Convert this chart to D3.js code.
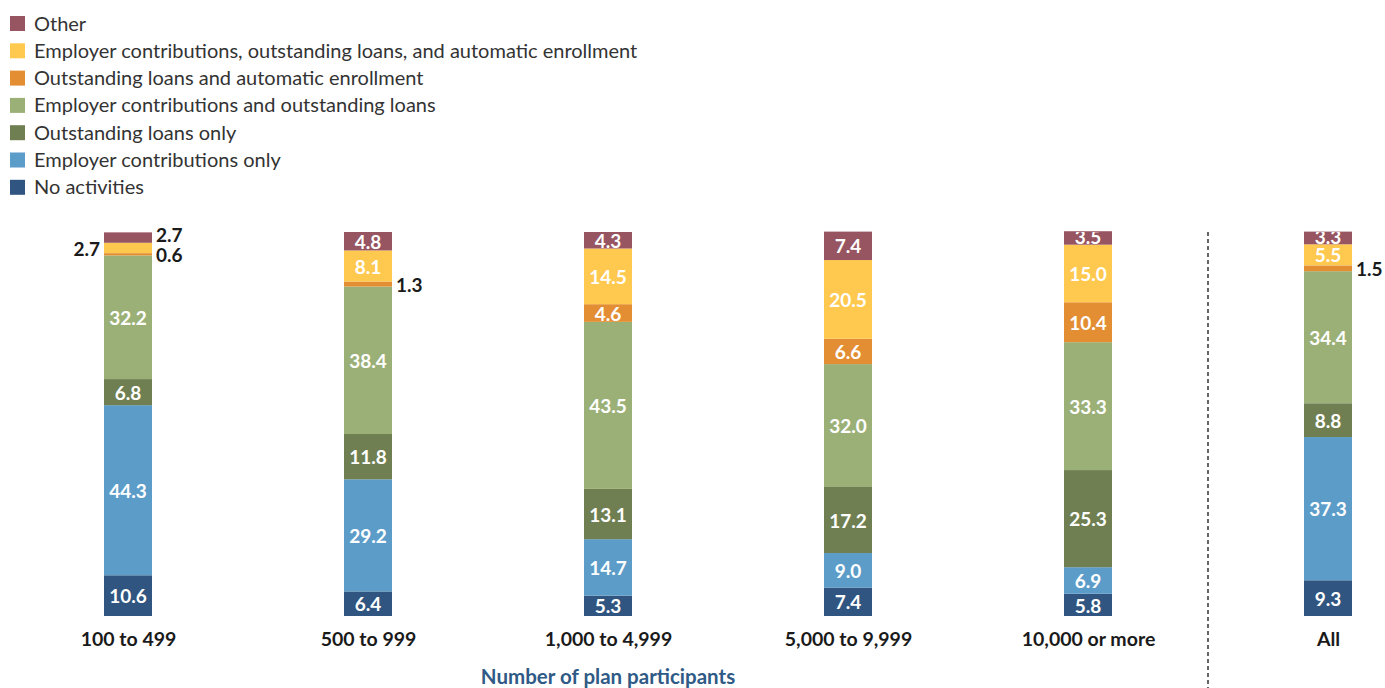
<!DOCTYPE html>
<html>
<head>
<meta charset="utf-8">
<script src="https://cdn.jsdelivr.net/npm/d3@7"></script>
<style>
  html, body { margin: 0; padding: 0; background: #fff; }
  svg { display: block; font-family: Lato, "Open Sans", sans-serif; }
</style>
</head>
<body>
<svg id="chart" width="1385" height="688"></svg>
<script>
// Plan-size groups (x axis)
const categories = ["100 to 499", "500 to 999", "1,000 to 4,999", "5,000 to 9,999", "10,000 or more", "All"];

// Series, stacked from the bottom up (percent of plans)
const seriesNames = [
  "No activities",
  "Employer contributions only",
  "Outstanding loans only",
  "Employer contributions and outstanding loans",
  "Outstanding loans and automatic enrollment",
  "Employer contributions, outstanding loans, and automatic enrollment",
  "Other"
];
const noActivities   = [10.6, 6.4, 5.3, 7.4, 5.8, 9.3];
const employerOnly   = [44.3, 29.2, 14.7, 9.0, 6.9, 37.3];
const loansOnly      = [6.8, 11.8, 13.1, 17.2, 25.3, 8.8];
const employerLoans  = [32.2, 38.4, 43.5, 32.0, 33.3, 34.4];
const loansAutoEnrol = [0.6, 1.3, 4.6, 6.6, 10.4, 1.5];
const allThree       = [2.7, 8.1, 14.5, 20.5, 15.0, 5.5];
const other          = [2.7, 4.8, 4.3, 7.4, 3.5, 3.3];
const seriesValues = [noActivities, employerOnly, loansOnly, employerLoans, loansAutoEnrol, allThree, other];

const colors = ["#2f5580", "#5c9cc9", "#6f7f52", "#9bb077", "#e38e33", "#ffc94f", "#975461"];

const svg = d3.select("#chart");

// Build a row per category for d3.stack
const rows = categories.map((c, i) => {
  const r = { category: c };
  seriesNames.forEach((s, k) => { r[s] = seriesValues[k][i]; });
  return r;
});
const stacked = d3.stack().keys(seriesNames)(rows);

const x = d3.scalePoint().domain(categories).range([128, 1328]);
const y = d3.scaleLinear().domain([0, 100]).range([616, 232]);
const barW = 48;

// Legend (top series first)
const legend = svg.append("g").attr("transform", "translate(10,0)");
const legendOrder = seriesNames.slice().reverse();
legendOrder.forEach((name, i) => {
  const k = seriesNames.indexOf(name);
  const g = legend.append("g").attr("transform", `translate(0,${16 + i * 27.3})`);
  g.append("rect").attr("width", 15).attr("height", 15).attr("fill", colors[k]);
  g.append("text").attr("x", 24).attr("y", 14.5)
    .attr("font-size", 20).attr("fill", "#333").text(name);
});

// Clip labels to the top of the plotting area
svg.append("defs").append("clipPath").attr("id", "plotClip")
  .append("rect").attr("x", 0).attr("y", 232).attr("width", 1385).attr("height", 456);

// Bars
const bars = svg.append("g");
stacked.forEach((layer, k) => {
  bars.selectAll(null).data(layer).enter().append("rect")
    .attr("x", d => x(d.data.category) - barW / 2)
    .attr("width", barW)
    .attr("y", d => y(d[1]))
    .attr("height", d => y(d[0]) - y(d[1]))
    .attr("fill", colors[k]);
});

// Value labels: inside when the segment is tall enough, else beside the bar
const labels = svg.append("g").attr("font-weight", 700).attr("font-size", 19);
categories.forEach((c, i) => {
  let lastRight = null;
  stacked.forEach((layer, k) => {
    const d = layer[i];
    const v = seriesValues[k][i];
    const segH = y(d[0]) - y(d[1]);
    let cy = (y(d[0]) + y(d[1])) / 2;
    const cx = x(c);
    if (v >= 3) {
      if (segH < 15) cy -= 2;
      labels.append("text").attr("clip-path", "url(#plotClip)")
        .attr("x", cx).attr("y", cy + 1).attr("dy", "0.35em")
        .attr("text-anchor", "middle").attr("fill", "#fff")
        .text(v.toFixed(1));
    } else {
      let side = 1;
      if (lastRight !== null && Math.abs(lastRight - cy) < 16) side = -1;
      if (side === 1) {
        if (lastRight !== null && lastRight - cy < 20) cy = lastRight - 20;
        lastRight = cy;
      }
      labels.append("text")
        .attr("x", cx + side * (barW / 2 + 4)).attr("y", cy + 1).attr("dy", "0.35em")
        .attr("text-anchor", side === 1 ? "start" : "end").attr("fill", "#1a1a1a")
        .text(v.toFixed(1));
    }
  });
});

// Category axis
const xAxis = svg.append("g").attr("transform", "translate(0,616)")
  .call(d3.axisBottom(x).tickSize(0).tickPadding(16));
xAxis.select(".domain").remove();
xAxis.selectAll("text").attr("font-family", "Lato, 'Open Sans', sans-serif")
  .attr("font-size", 19.5).attr("font-weight", 700).attr("fill", "#1a1a1a");

// Axis title, centred under the plan-size groups
const firstX = x(categories[0]), lastGroupX = x(categories[categories.length - 2]);
svg.append("text").attr("x", (firstX + lastGroupX) / 2).attr("y", 684)
  .attr("text-anchor", "middle").attr("font-size", 20.5).attr("font-weight", 700)
  .attr("fill", "#2f5a86").text("Number of plan participants");

// Divider between size groups and the overall total
const divX = (lastGroupX + x(categories[categories.length - 1])) / 2;
svg.append("line").attr("x1", divX).attr("x2", divX).attr("y1", 232).attr("y2", 688)
  .attr("stroke", "#333").attr("stroke-width", 1.5).attr("stroke-dasharray", "4,3");
</script>
</body>
</html>
